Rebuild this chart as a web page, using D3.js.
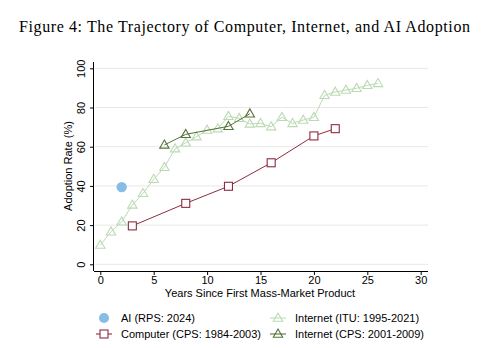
<!DOCTYPE html>
<html>
<head>
<meta charset="utf-8">
<script src="https://cdn.jsdelivr.net/npm/d3@7"></script>
<style>
  body { margin: 0; background: #fff; }
  svg { display: block; }
</style>
</head>
<body>
<div id="chart"></div>
<script>
'use strict';

// Data
var aiYears = [2];
var aiRates = [39.4];

var computerYears = [3, 8, 12, 16, 20, 22];
var computerRates = [19.6, 31.1, 39.8, 51.8, 65.5, 69.2];

var ituYears = [0, 1, 2, 3, 4, 5, 6, 7, 8, 9, 10, 11, 12, 13, 14, 15, 16, 17, 18, 19, 20, 21, 22, 23, 24, 25, 26];
var ituRates = [9.8, 16.6, 21.7, 30.3, 36.2, 43.4, 49.5, 59, 62, 65.1, 68.5, 69.2, 75.5, 74.5, 71.6, 71.9, 70.2, 75, 71.9, 73.6, 75, 86.2, 87.9, 88.9, 89.8, 91.3, 92.3];

var cpsYears = [6, 8, 12, 14];
var cpsRates = [60.9, 66.3, 70.4, 76.8];

var xTicks = [0, 5, 10, 15, 20, 25, 30];
var yTicks = [0, 20, 40, 60, 80, 100];

var colors = {
    ai: '#85bde6',
    computer: '#8e2c3f',
    itu: '#bcdab4',
    cps: '#56733a'
};

var width = 500, height = 348;
var svg = d3.select('#chart').append('svg')
    .attr('width', width)
    .attr('height', height);

var x = d3.scaleLinear().domain([0, 30]).range([100.3, 420.7]);
var y = d3.scaleLinear().domain([0, 100]).range([264.3, 68.3]);

// title
svg.append('text')
    .attr('x', 19).attr('y', 32)
    .attr('textLength', 451)
    .attr('lengthAdjust', 'spacing')
    .style('font-family', '"Liberation Serif", "DejaVu Serif", serif')
    .style('font-size', '16px')
    .text('Figure 4: The Trajectory of Computer, Internet, and AI Adoption');

// gridlines
svg.append('g').selectAll('line')
    .data(yTicks)
    .enter().append('line')
    .attr('x1', 95).attr('x2', 428)
    .attr('y1', function(d) { return y(d); })
    .attr('y2', function(d) { return y(d); })
    .style('stroke', '#e8e8e8')
    .style('stroke-width', 1);

// axes
var xAxis = svg.append('g')
    .attr('transform', 'translate(0,271)')
    .call(d3.axisBottom(x).tickValues(xTicks).tickSize(4).tickPadding(1));
xAxis.select('.domain').attr('d', 'M94,0.5H428');

var yAxis = svg.append('g')
    .attr('transform', 'translate(94,0)')
    .call(d3.axisLeft(y).tickValues(yTicks).tickSize(4).tickPadding(2));
yAxis.select('.domain').attr('d', 'M-0.5,62V271');
yAxis.selectAll('.tick text')
    .attr('transform', 'rotate(-90)')
    .attr('x', 0).attr('y', -9)
    .attr('dy', 0)
    .style('text-anchor', 'middle');

svg.selectAll('.tick text')
    .style('font-family', '"Liberation Sans", Arial, sans-serif')
    .style('font-size', '11px')
    .style('fill', '#000');
svg.selectAll('.domain, .tick line').style('stroke', '#000');

// axis titles
svg.append('text')
    .attr('x', 260).attr('y', 297)
    .attr('text-anchor', 'middle')
    .style('font-family', '"Liberation Sans", Arial, sans-serif')
    .style('font-size', '11px')
    .text('Years Since First Mass-Market Product');

svg.append('text')
    .attr('transform', 'translate(72,166) rotate(-90)')
    .attr('text-anchor', 'middle')
    .style('font-family', '"Liberation Sans", Arial, sans-serif')
    .style('font-size', '11px')
    .text('Adoption Rate  (%)');

function zip(xs, ys) {
    return xs.map(function(d, i) { return {x: d, y: ys[i]}; });
}

var line = d3.line()
    .x(function(d) { return x(d.x); })
    .y(function(d) { return y(d.y); });

var triangle = d3.symbol().type(d3.symbolTriangle).size(38);

function drawSeries(data, color, shape) {
    var g = svg.append('g');
    g.append('path')
        .datum(data)
        .attr('d', line)
        .style('fill', 'none')
        .style('stroke', color)
        .style('stroke-width', 1);
    var marks = g.selectAll('.m').data(data).enter();
    if (shape === 'square') {
        marks.append('rect')
            .attr('x', function(d) { return x(d.x) - 4; })
            .attr('y', function(d) { return y(d.y) - 4; })
            .attr('width', 8).attr('height', 8)
            .style('fill', '#fff')
            .style('stroke', color)
            .style('stroke-width', 1.1);
    } else {
        marks.append('path')
            .attr('d', triangle)
            .attr('transform', function(d) { return 'translate(' + x(d.x) + ',' + (y(d.y) + 0.5) + ')'; })
            .style('fill', 'none')
            .style('stroke', color)
            .style('stroke-width', 1.1);
    }
}

drawSeries(zip(ituYears, ituRates), colors.itu, 'triangle');
drawSeries(zip(computerYears, computerRates), colors.computer, 'square');
drawSeries(zip(cpsYears, cpsRates), colors.cps, 'triangle');

svg.append('g').selectAll('circle')
    .data(zip(aiYears, aiRates))
    .enter().append('circle')
    .attr('cx', function(d) { return x(d.x); })
    .attr('cy', function(d) { return y(d.y); })
    .attr('r', 5.2)
    .style('fill', colors.ai);

// legend
var legend = [
    {label: 'AI (RPS: 2024)', color: colors.ai, kind: 'circle', lx: 104, ly: 318},
    {label: 'Internet (ITU: 1995-2021)', color: colors.itu, kind: 'triangle', lx: 278, ly: 318},
    {label: 'Computer (CPS: 1984-2003)', color: colors.computer, kind: 'square', lx: 104, ly: 334},
    {label: 'Internet (CPS: 2001-2009)', color: colors.cps, kind: 'triangle', lx: 278, ly: 334}
];

var items = svg.append('g').selectAll('g')
    .data(legend)
    .enter().append('g')
    .attr('transform', function(d) { return 'translate(' + d.lx + ',' + d.ly + ')'; });

items.each(function(d) {
    var g = d3.select(this);
    if (d.kind === 'circle') {
        g.append('circle').attr('r', 5).style('fill', d.color);
    } else {
        g.append('line')
            .attr('x1', -8).attr('x2', 8)
            .style('stroke', d.color).style('stroke-width', 1.1);
        if (d.kind === 'square') {
            g.append('rect')
                .attr('x', -4).attr('y', -4).attr('width', 8).attr('height', 8)
                .style('fill', '#fff').style('stroke', d.color).style('stroke-width', 1.1);
        } else {
            g.append('path').attr('d', triangle).attr('transform', 'translate(0,0.5)')
                .style('fill', 'none').style('stroke', d.color).style('stroke-width', 1.1);
        }
    }
    g.append('text')
        .attr('x', 17).attr('y', 4)
        .style('font-family', '"Liberation Sans", Arial, sans-serif')
        .style('font-size', '11px')
        .text(d.label);
});
</script>
</body>
</html>
